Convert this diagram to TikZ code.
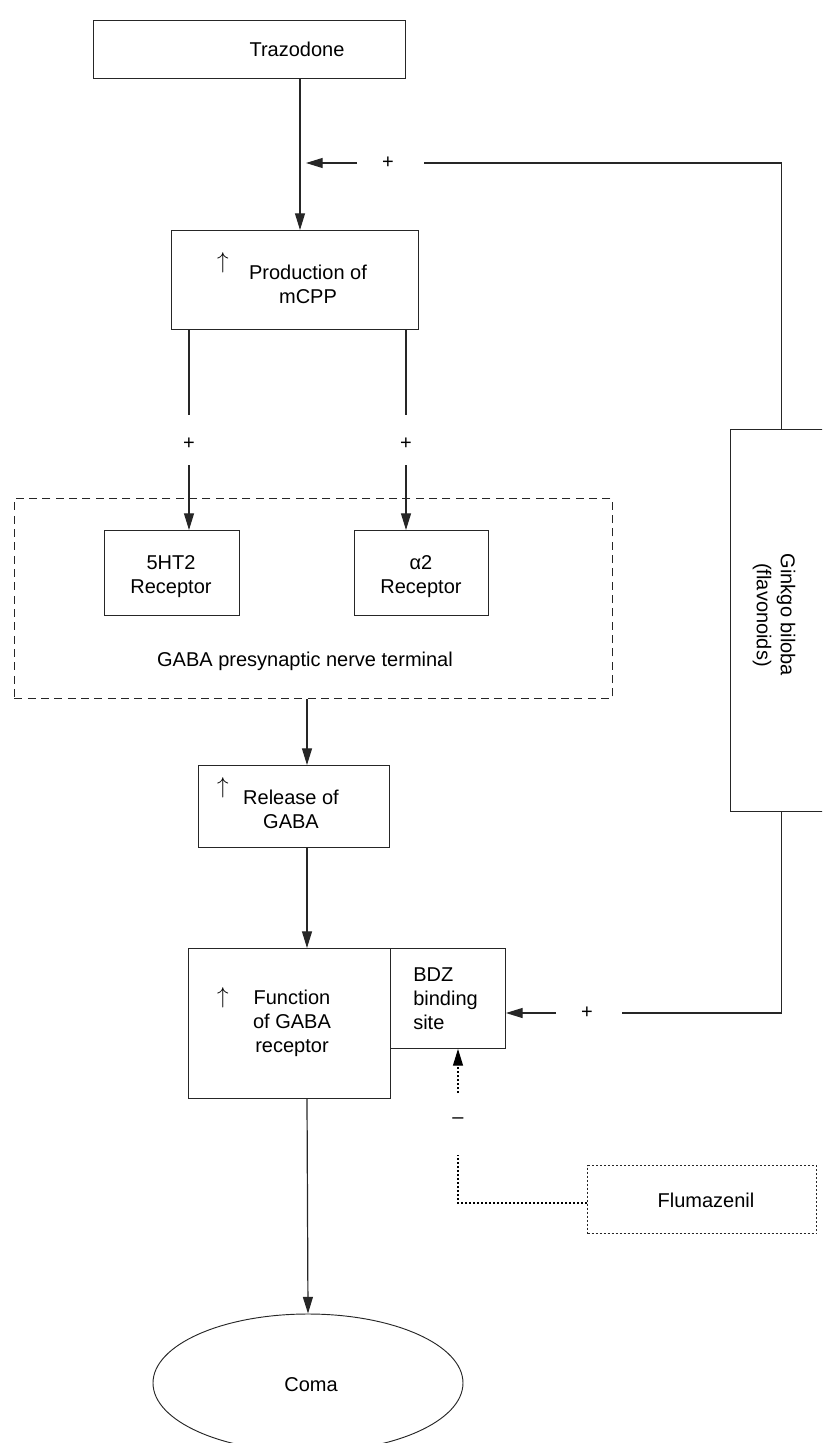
\documentclass[tikz,border=0pt]{standalone}
\usepackage{fontspec}
\setmainfont{Liberation Sans}
\usetikzlibrary{arrows.meta,shapes.geometric}
\begin{document}
\begin{tikzpicture}[x=0.75pt,y=-0.75pt,
  box/.style={draw=black!85, line width=0.7pt, inner sep=0, anchor=north west},
  lbl/.style={font=\fontsize{15}{18}\selectfont, align=center, inner sep=0},
  arr/.style={line width=0.9pt, draw=black!85, -{Triangle[length=12.5pt,width=7.5pt]}},
  ln/.style={line width=0.9pt, draw=black!85},
  dotarr/.style={line width=0.8pt, dash pattern=on 1.5pt off 1.5pt, -{Triangle[length=12.5pt,width=7.5pt]}},
  dotln/.style={line width=0.8pt, dash pattern=on 1.5pt off 1.5pt},
  up/.style={font=\fontsize{18}{18}\selectfont, inner sep=0}
]
\useasboundingbox (0,0) rectangle (822,1443);
\clip (0,0) rectangle (822,1443);

% boxes
\node[box, minimum width=234pt, minimum height=43.5pt] (traz) at (93,20) {};
\node[box, minimum width=185.25pt, minimum height=74.25pt] (prod) at (171,230) {};
\node[box, dash pattern=on 6pt off 4pt, line width=0.7pt, minimum width=448.5pt, minimum height=150pt] (term) at (14,498) {};
\node[box, minimum width=101.25pt, minimum height=63.75pt] (ht) at (104,530) {};
\node[box, minimum width=100.5pt, minimum height=63.75pt] (alpha) at (354,530) {};
\node[box, minimum width=143.25pt, minimum height=61.5pt] (rel) at (198,765) {};
\node[box, minimum width=151.5pt, minimum height=112.5pt] (func) at (188,948) {};
\node[box, minimum width=86.25pt, minimum height=75pt] (bdz) at (390,948) {};
\node[box, minimum width=76.5pt, minimum height=286.5pt] (ginkgo) at (730,429) {};
\node[box, dotln, minimum width=171.75pt, minimum height=51pt] (flu) at (587,1165) {};
\node[draw=black!85, ellipse, line width=0.7pt, minimum width=232.5pt, minimum height=103.5pt, inner sep=0] (coma) at (308,1383) {};

% texts
\node[lbl] (trazt) at (297,49) {Trazodone};
\node[up] (up1) at (223,263) {$\uparrow$};
\node[lbl] (prodt) at (308,284.5) {Production of\\mCPP};
\node[lbl] (htt) at (171,576.5) {5HT2\\Receptor};
\node[lbl] (alphat) at (421,576.5) {α2\\Receptor};
\node[lbl] (termt) at (305,661) {GABA presynaptic nerve terminal};
\node[up] (up2) at (223,788) {$\uparrow$};
\node[lbl] (relt) at (291,809.5) {Release of\\GABA};
\node[up] (up3) at (223,998) {$\uparrow$};
\node[lbl] (funct) at (292,1023.5) {Function\\of GABA\\receptor};
\node[lbl, align=left, anchor=west] (bdzt) at (413,999) {BDZ\\binding\\site};
\node[lbl, rotate=-90] (ginkgot) at (774,615) {Ginkgo biloba\\(flavonoids)};
\node[lbl] (flut) at (706,1200) {Flumazenil};
\node[lbl] (comat) at (311,1385) {Coma};

% signs
\node[lbl] (p1) at (388,163) {+};
\node[lbl] (p2) at (189,444) {+};
\node[lbl] (p3) at (406,444) {+};
\node[lbl] (p4) at (587,1013) {+};
\node[lbl] (m1) at (458,1121) {–};

% connectors
\draw[arr] (300,0 |- traz.south) -- (300,0 |- prod.north);
\draw[ln] (ginkgo.north) -- (ginkgo.north |- p1) -- (424,0 |- p1);
\draw[arr] (357,0 |- p1) -- (306,0 |- p1);

\draw[ln] (189,0 |- prod.south) -- (189,415);
\draw[arr] (189,465) -- (189,0 |- ht.north);
\draw[ln] (406,0 |- prod.south) -- (406,415);
\draw[arr] (406,465) -- (406,0 |- alpha.north);

\draw[arr] (307,0 |- term.south) -- (307,0 |- rel.north);
\draw[arr] (307,0 |- rel.south) -- (307,0 |- func.north);
\draw[arr] (307,0 |- func.south) -- (coma.north);

\draw[ln] (ginkgo.south) -- (ginkgo.south |- p4) -- (622,0 |- p4);
\draw[arr] (556,0 |- p4) -- (bdz.east |- p4);

\draw[dotln] (flu.west |- 0,1203) -- (458,1203) -- (458,1155);
\draw[dotarr] (458,1093) -- (458,0 |- bdz.south);
\end{tikzpicture}
\end{document}
